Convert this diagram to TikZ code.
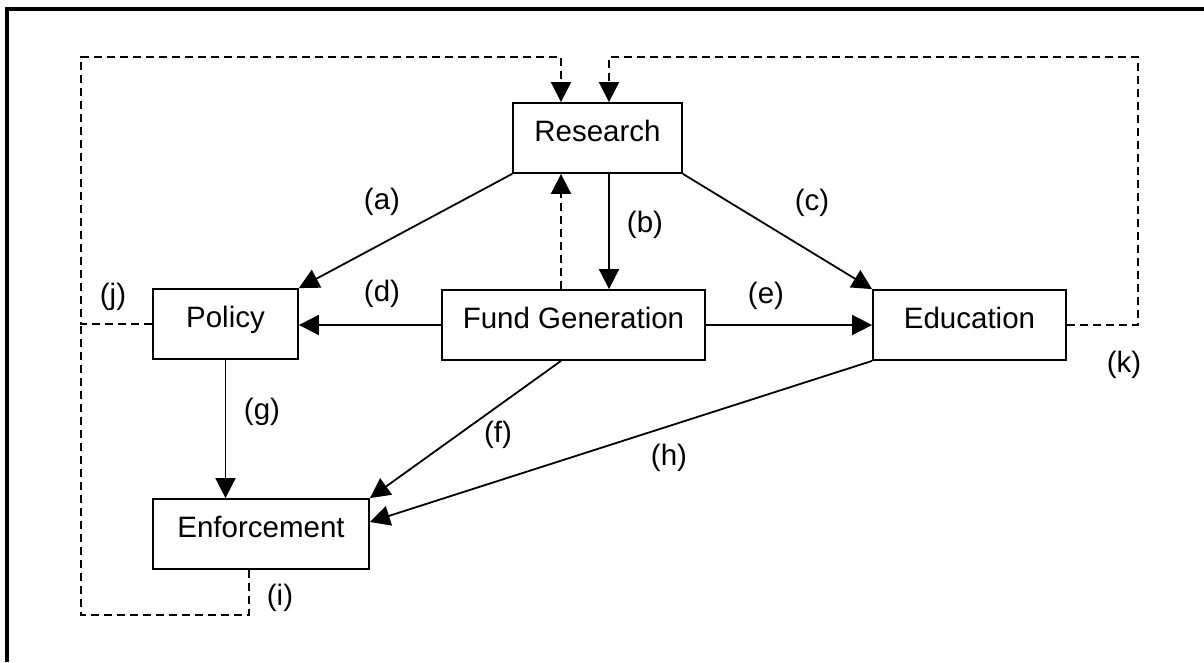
\documentclass[tikz,border=0pt]{standalone}
\usepackage{fontspec}
\setmainfont{Liberation Sans}
\usetikzlibrary{arrows.meta}

\begin{document}
\begin{tikzpicture}[x=1pt,y=-1pt,
    box/.style={draw, line width=1.8pt, minimum height=70pt, inner sep=0pt,
        text height=21pt, text depth=14pt, font=\fontsize{29.5}{34}\selectfont},
    link/.style={line width=1.8pt, -{Triangle[length=20pt,width=20pt]}},
    loopline/.style={line width=1.8pt, dash pattern=on 8.5pt off 4.5pt},
    tag/.style={font=\fontsize{29.5}{34}\selectfont}]
    \useasboundingbox (0,0) rectangle (1204,662);
    \draw[line width=4pt] (6.5,662) -- (6.5,8.5) -- (1204,8.5);
    % boxes
    \node[box, minimum width=169pt] (research) at (597.5,138) {Research};
    \node[box, minimum width=263pt] (fund) at (573.5,325) {Fund Generation};
    \node[box, minimum width=145pt] (policy) at (225.5,324) {Policy};
    \node[box, minimum width=193pt] (education) at (969.5,325) {Education};
    \node[box, minimum width=216pt] (enforcement) at (261,534) {Enforcement};
    % helper columns and corners
    \coordinate (colA) at (561,0);
    \coordinate (colB) at (609,0);
    \coordinate (colI) at (249,0);
    \coordinate (topleft) at (81,57);
    \coordinate (botleft) at (81,615);
    \coordinate (topright) at (1138,57);
    % solid links
    \draw[link] (research.south west) -- (policy.north east);
    \draw[link] (research.south -| colB) -- (fund.north -| colB);
    \draw[link] (research.south east) -- (education.north west);
    \draw[link] (fund.west) -- (policy.east |- fund.west);
    \draw[link] (fund.east) -- (education.west);
    \draw[link] (fund.south -| colA) -- (enforcement.north east);
    \draw[link] (policy.south) -- (policy.south |- enforcement.north);
    \draw[link] (education.south west) -- ([yshift=12pt]enforcement.east);
    % dashed feedback
    \draw[loopline, -{Triangle[length=20pt,width=20pt]}] (fund.north -| colA) -- (research.south -| colA);
    \draw[loopline, -{Triangle[length=20pt,width=20pt]}] (policy.west) -- (policy.west -| topleft) -- (topleft) -- (topleft -| colA) -- (research.north -| colA);
    \draw[loopline] (enforcement.south -| colI) -- (botleft -| colI) -- (botleft) -- (policy.west -| botleft);
    \draw[loopline, -{Triangle[length=20pt,width=20pt]}] (education.east) -- (education.east -| topright) -- (topright) -- (topright -| colB) -- (research.north -| colB);
    % labels
    \node[tag] (la) at (382,202) {(a)};
    \node[tag] (lb) at (645,225) {(b)};
    \node[tag] (lc) at (812,203) {(c)};
    \node[tag] (ld) at (382,294) {(d)};
    \node[tag] (le) at (766,296) {(e)};
    \node[tag] (lf) at (498,435) {(f)};
    \node[tag] (lg) at (262,412) {(g)};
    \node[tag] (lh) at (669,458) {(h)};
    \node[tag] (li) at (280,598) {(i)};
    \node[tag] (lj) at (113,297) {(j)};
    \node[tag] (lk) at (1124,365) {(k)};
\end{tikzpicture}
\end{document}
